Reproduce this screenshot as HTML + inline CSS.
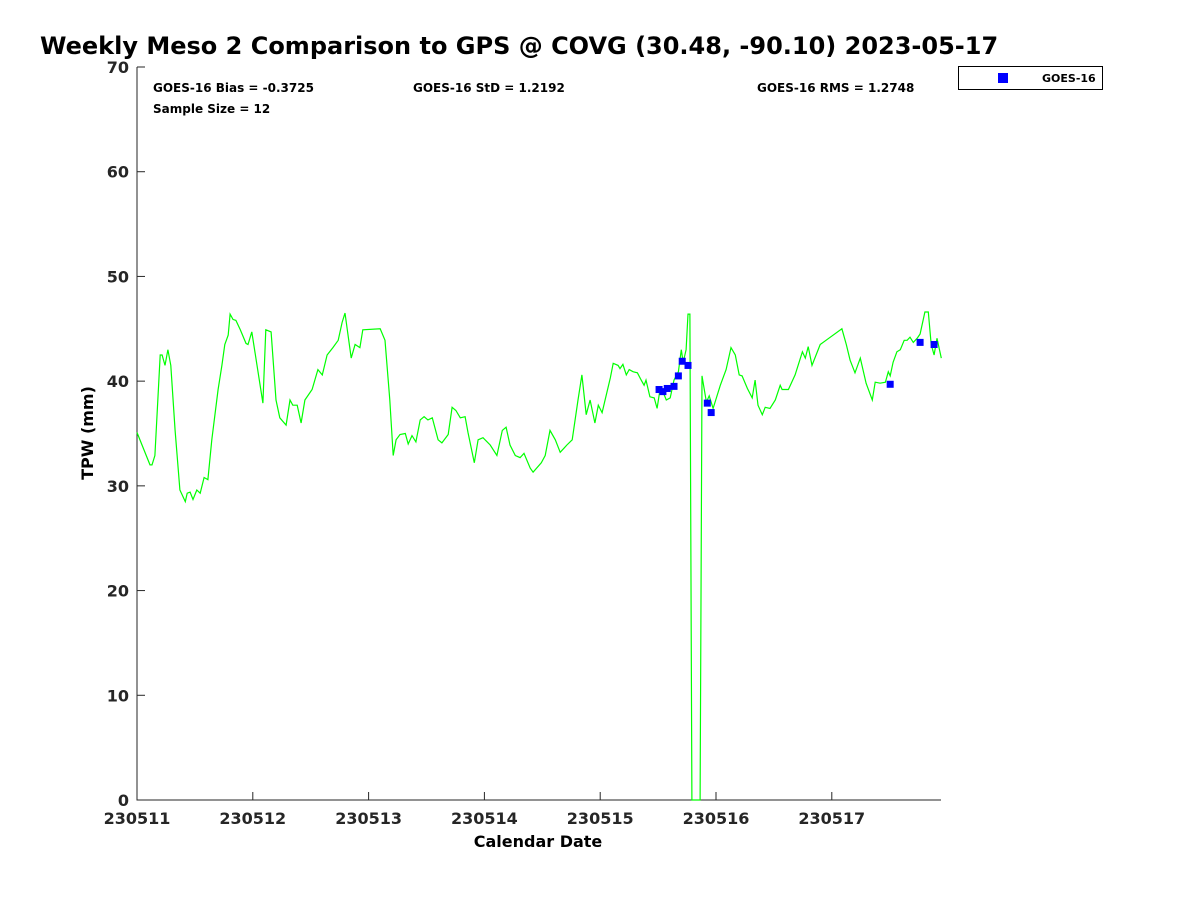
<!DOCTYPE html>
<html><head><meta charset="utf-8">
<style>body{margin:0;background:#fff}svg{display:block;font-family:"DejaVu Sans","Liberation Sans",sans-serif}</style>
</head><body>
<svg id="chart" width="1200" height="900">
<text x="40" y="54" font-size="24" font-weight="bold">Weekly Meso 2 Comparison to GPS @ COVG (30.48, -90.10) 2023-05-17</text>
<g id="plot"></g>
<text x="153" y="92" font-size="12" font-weight="bold">GOES-16 Bias = -0.3725</text>
<text x="413" y="92" font-size="12" font-weight="bold">GOES-16 StD = 1.2192</text>
<text x="757" y="92" font-size="12" font-weight="bold">GOES-16 RMS = 1.2748</text>
<text x="153" y="113" font-size="12" font-weight="bold">Sample Size = 12</text>
<g>
<rect x="958.5" y="66.5" width="144" height="23" fill="#fff" stroke="#000"/>
<rect x="998" y="73" width="10" height="10" fill="#0000ff"/>
<text x="1042" y="82" font-size="11" font-weight="bold">GOES-16</text>
</g>
<text x="538" y="847" font-size="16" font-weight="bold" text-anchor="middle">Calendar Date</text>
<text transform="translate(93,433) rotate(-90)" font-size="16" font-weight="bold" text-anchor="middle">TPW (mm)</text>
</svg>
<script>
const gpsHours=[0,2.7,3.1,3.7,4.8,5.2,5.8,6.4,7.0,7.9,8.9,10.0,10.4,11.0,11.6,12.4,13.1,13.9,14.7,15.5,16.8,17.6,18.2,18.9,19.3,19.9,20.5,21.4,22.6,23.0,23.8,26.1,26.7,27.8,28.8,29.6,30.9,31.7,32.3,33.2,34.0,34.8,36.3,37.5,38.4,39.4,40.6,41.7,42.5,43.1,44.4,45.2,46.2,46.8,50.4,51.4,52.4,53.1,53.7,54.5,55.6,56.2,57.0,57.8,58.7,59.5,60.3,61.2,62.4,63.2,64.5,65.3,66.1,67.0,68.0,68.6,69.9,70.7,71.7,73.2,74.6,75.7,76.5,77.3,78.4,79.4,80.2,81.5,82.1,83.8,84.6,85.6,86.7,87.7,88.5,89.1,90.2,91.4,92.2,93.1,93.9,94.9,95.6,96.4,98.1,98.7,99.7,100.1,100.7,101.4,102.0,102.8,103.7,104.5,105.1,105.5,106.3,107.2,107.8,108.4,109.0,109.7,110.5,111.3,112.2,112.8,113.2,113.8,114.2,114.6,115.0,116.7,117.1,118.0,118.6,119.4,120.9,122.1,123.1,124.0,124.8,125.4,126.5,127.5,128.1,128.7,129.6,130.2,131.2,132.3,133.3,133.7,135.0,136.4,137.9,138.5,139.1,139.9,141.6,142.8,146.1,147.0,147.8,148.8,149.9,151.1,152.4,153.0,154.0,155.1,155.7,156.1,156.7,157.5,158.2,159.0,159.6,160.2,160.9,161.7,162.3,163.3,164.0,164.6,165.2,165.8,166.7];
const gpsTpw=[35.1,32.0,32.0,32.9,42.5,42.5,41.5,43.0,41.5,35.3,29.6,28.5,29.3,29.4,28.7,29.6,29.3,30.8,30.6,34.4,39.2,41.5,43.5,44.4,46.4,45.9,45.8,44.9,43.6,43.5,44.7,37.9,44.9,44.7,38.2,36.5,35.8,38.2,37.7,37.7,36.0,38.2,39.2,41.1,40.6,42.5,43.2,43.9,45.6,46.5,42.2,43.5,43.2,44.9,45.0,43.9,38.2,32.9,34.4,34.9,35.0,34.0,34.8,34.2,36.3,36.6,36.3,36.5,34.4,34.1,34.9,37.5,37.2,36.5,36.6,35.1,32.2,34.4,34.6,33.9,32.9,35.3,35.6,33.9,32.9,32.7,33.1,31.7,31.3,32.2,32.9,35.3,34.4,33.2,33.6,33.9,34.4,38.2,40.6,36.8,38.2,36.0,37.7,37.0,40.3,41.7,41.5,41.2,41.6,40.6,41.1,40.9,40.8,40.1,39.6,40.1,38.5,38.4,37.4,39.2,39.0,38.2,38.4,40.1,40.9,43.0,41.8,43.0,46.4,46.4,0,0,40.5,38.0,38.6,37.4,39.6,41.1,43.2,42.5,40.6,40.5,39.3,38.4,40.1,37.7,36.8,37.5,37.4,38.2,39.6,39.2,39.2,40.6,42.8,42.2,43.3,41.5,43.5,43.9,45.0,43.5,42.0,40.8,42.2,39.8,38.2,39.9,39.8,39.9,40.9,40.5,41.8,42.8,43.0,43.9,43.9,44.2,43.7,44.1,44.5,46.6,46.6,43.5,42.5,44.1,42.2];
const goesHours=[108.2,109.0,109.9,111.3,112.2,113.0,114.2,118.2,119.0,156.1,162.3,165.2];
const goesTpw=[39.2,39.0,39.3,39.5,40.5,41.9,41.5,37.9,37.0,39.7,43.7,43.5];
const xTickLabels=["230511","230512","230513","230514","230515","230516","230517"];
const yTicks=[0,10,20,30,40,50,60,70];

const NS="http://www.w3.org/2000/svg";
const X0=137,X1=941,Y0=800,Y1=67,HMAX=166.7;
const pxPerHour=115.8/24;
function sx(h){return X0+h*pxPerHour;}
function sy(v){return Y0-(v/70)*(Y0-Y1);}
const g=document.getElementById('plot');
function mk(tag,attrs){const e=document.createElementNS(NS,tag);for(const k in attrs)e.setAttribute(k,attrs[k]);g.appendChild(e);return e;}

const ax=mk('path',{d:`M${X0},${Y1} L${X0},${Y0} L${X1},${Y0}`,fill:'none',stroke:'#262626','stroke-width':1});


yTicks.forEach(v=>{
  const t=mk('line',{x1:X0,x2:X0+8,y1:sy(v),y2:sy(v),stroke:'#262626'});
  
  
  const l=mk('text',{x:X0-8,y:sy(v)+6,'font-size':16,'font-weight':'bold','text-anchor':'end',fill:'#262626'});
  l.textContent=v;
  
  
});
xTickLabels.forEach((s,i)=>{
  const x=sx(i*24);
  const t=mk('line',{x1:x,x2:x,y1:Y0,y2:Y0-8,stroke:'#262626'});
  
  
  const l=mk('text',{x:x,y:Y0+24,'font-size':16,'font-weight':'bold','text-anchor':'middle',fill:'#262626'});
  l.textContent=s;
  
  
});
const pts=gpsHours.map((h,i)=>sx(h).toFixed(1)+','+sy(gpsTpw[i]).toFixed(1)).join(' ');
const line=mk('polyline',{points:pts,fill:'none',stroke:'#00ff00','stroke-width':1.2});


goesHours.forEach((h,i)=>{
  const r=mk('rect',{x:sx(h)-3.5,y:sy(goesTpw[i])-3.5,width:7,height:7,fill:'#0000ff'});
  
  
});
</script>
</body></html>
